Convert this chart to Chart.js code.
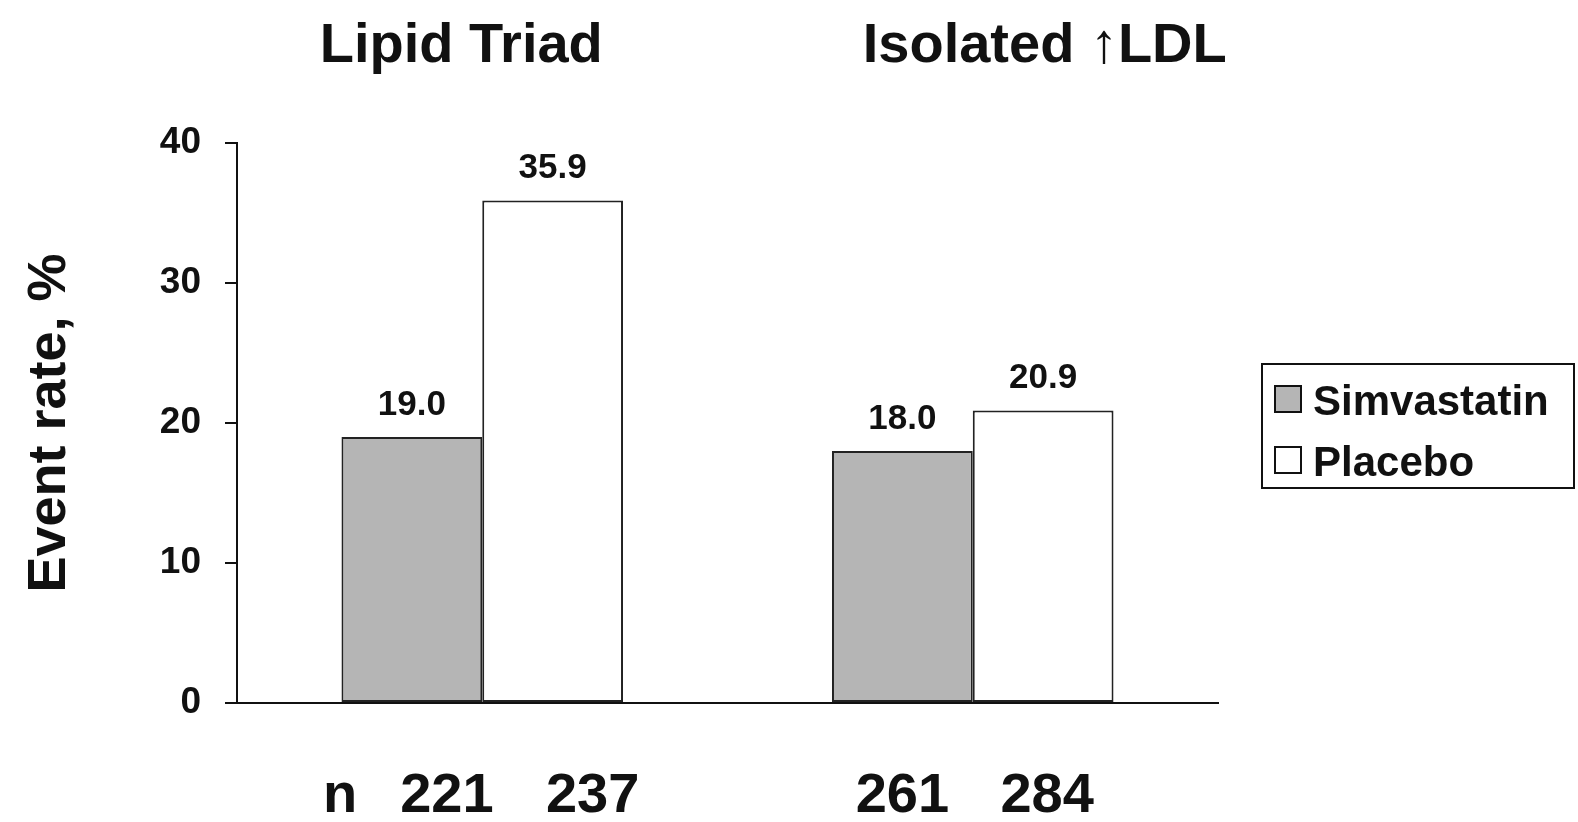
<!DOCTYPE html>
<html><head><meta charset="utf-8">
<script src="https://cdn.jsdelivr.net/npm/chart.js@4"></script>
<style>html,body{margin:0;background:#fff}#c{display:block}</style>
</head><body>
<canvas id="c" width="1578" height="822"></canvas>
<script>
const groups = ['Lipid Triad', 'Isolated \u2191LDL'];
const seriesNames = ['Simvastatin', 'Placebo'];
const simvastatin = [19.0, 18.0];
const placebo = [35.9, 20.9];
const nSimva = [221, 261];
const nPlacebo = [237, 284];
const yTicks = [0, 10, 20, 30, 40];

const FONT = '"Liberation Sans", Arial, sans-serif';

// draws value labels, group titles, n counts and the legend box
const annotate = {
  id: 'annotate',
  afterDatasetsDraw(chart) {
    const ctx = chart.ctx;
    ctx.save();
    ctx.fillStyle = '#111';
    ctx.textAlign = 'center';
    ctx.textBaseline = 'alphabetic';
    ctx.font = 'bold 35px ' + FONT;
    chart.data.datasets.forEach((ds, i) => {
      chart.getDatasetMeta(i).data.forEach((bar, j) => {
        ctx.fillText(ds.data[j].toFixed(1), bar.x, bar.y - 22);
      });
    });
    const m0 = chart.getDatasetMeta(0).data, m1 = chart.getDatasetMeta(1).data;
    ctx.font = 'bold 56px ' + FONT;
    groups.forEach((g, j) => {
      const cx = (m0[j].x + m1[j].x) / 2;
      ctx.fillText(g, cx + (j ? 72 : -21), 62);
    });
    nSimva.forEach((n, j) => {
      ctx.fillText(String(n), m0[j].x + (j ? 0 : 35), 812);
      ctx.fillText(String(nPlacebo[j]), m1[j].x + (j ? 4 : 40), 812);
    });
    ctx.fillText('n', 340, 812);
    // legend
    ctx.lineWidth = 2;
    ctx.strokeStyle = '#111';
    ctx.strokeRect(1262, 364, 312, 124);
    const fills = ['#b5b5b5', '#ffffff'];
    ctx.textAlign = 'left';
    ctx.font = 'bold 42px ' + FONT;
    seriesNames.forEach((s, i) => {
      const y = 400 + i * 61;
      ctx.fillStyle = fills[i];
      ctx.fillRect(1275, y - 14, 26, 26);
      ctx.strokeRect(1275, y - 14, 26, 26);
      ctx.fillStyle = '#111';
      ctx.fillText(s, 1313, y + 15);
    });
    ctx.restore();
  }
};

new Chart(document.getElementById('c'), {
  type: 'bar',
  data: {
    labels: groups,
    datasets: [
      { label: seriesNames[0], data: simvastatin, backgroundColor: '#b5b5b5', borderColor: '#222', borderWidth: 2, borderSkipped: false },
      { label: seriesNames[1], data: placebo, backgroundColor: '#ffffff', borderColor: '#222', borderWidth: 2, borderSkipped: false }
    ]
  },
  options: {
    responsive: false,
    animation: false,
    layout: { padding: { top: 143, right: 360, left: 0, bottom: 0 } },
    datasets: { bar: { categoryPercentage: 0.574, barPercentage: 1.0 } },
    plugins: { legend: { display: false }, tooltip: { enabled: false } },
    scales: {
      x: {
        grid: { display: false, drawTicks: false },
        border: { color: '#111', width: 2 },
        ticks: { display: false },
        afterFit: s => { s.height = 119; }
      },
      y: {
        min: 0, max: 40,
        afterBuildTicks: s => { s.ticks = yTicks.map(v => ({ value: v })); },
        grid: { drawOnChartArea: false, tickLength: 12, color: '#111', lineWidth: 2 },
        border: { color: '#111', width: 2 },
        ticks: { color: '#111', font: { family: FONT, size: 37, weight: 'bold' }, padding: 24 },
        title: { display: true, text: 'Event rate, %', color: '#111', font: { family: FONT, size: 54, weight: 'bold' }, padding: { top: 18, bottom: 0 } },
        afterFit: s => { s.width = 237; }
      }
    }
  },
  plugins: [annotate]
});
</script>
</body></html>
